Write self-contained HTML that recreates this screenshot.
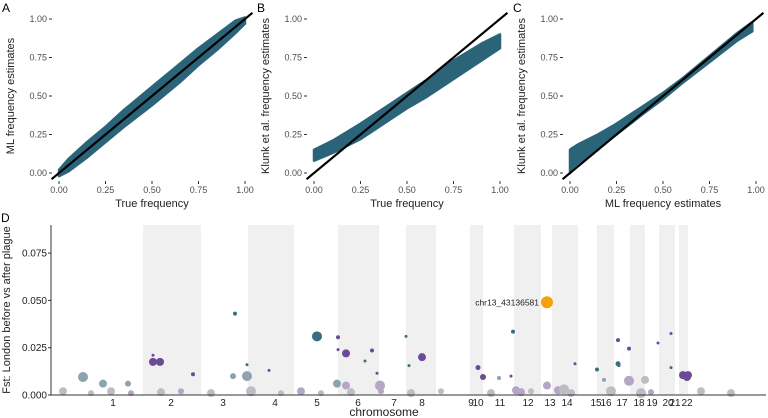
<!DOCTYPE html>
<html><head><meta charset="utf-8">
<style>
body{margin:0;background:#fff;}
svg{display:block;font-family:"Liberation Sans",sans-serif;}
</style></head>
<body>
<svg id="fig" width="768" height="418"></svg>
<script>
// ---- Panel A data: ML estimate cloud (x, lower, upper) ----
const aX = [0.0, 0.05, 0.15, 0.25, 0.35, 0.5, 0.65, 0.75, 0.85, 0.95, 1.0];
const aLo = [-0.02, 0.01, 0.10, 0.20, 0.30, 0.44, 0.59, 0.70, 0.80, 0.91, 0.97];
const aHi = [0.02, 0.09, 0.20, 0.30, 0.41, 0.56, 0.71, 0.81, 0.90, 0.99, 1.01];
// ---- Panel B data: Klunk cloud vs true ----
const bX = [0.0, 0.1, 0.25, 0.4, 0.5, 0.6, 0.75, 0.9, 1.0];
const bLo = [0.08, 0.13, 0.22, 0.34, 0.42, 0.49, 0.61, 0.73, 0.81];
const bHi = [0.15, 0.21, 0.32, 0.44, 0.52, 0.60, 0.73, 0.84, 0.90];
// ---- Panel C data: Klunk vs ML ----
const cX = [0.0, 0.01, 0.05, 0.15, 0.25, 0.4, 0.5, 0.6, 0.75, 0.9, 0.98];
const cLo = [0.0, 0.03, 0.07, 0.16, 0.25, 0.39, 0.48, 0.58, 0.72, 0.86, 0.92];
const cHi = [0.15, 0.16, 0.19, 0.25, 0.32, 0.44, 0.52, 0.61, 0.76, 0.91, 0.98];
const freqTicks = [0, 0.25, 0.5, 0.75, 1.0];
const freqTickLabels = ["0.00", "0.25", "0.50", "0.75", "1.00"];

// ---- Panel D data ----
const chrNames = ["1","2","3","4","5","6","7","8","9","10","11","12","13","14","15","16","17","18","19","20","21","22"];
const chrCenters = [62,120,172,224,266,307,343,371,420,427,449,477,499,516,545,555,571,588,601,617,624,636];
const bandStart = [null,92,null,197,null,287,null,355,null,419,null,463,null,501,null,546,null,579,null,608,null,628];
const bandEnd = [null,150,null,243,null,328,null,385,null,432,null,490,null,527,null,563,null,594,null,624,null,637];
const fstTicks = [0, 0.025, 0.05, 0.075];
const fstTickLabels = ["0.000","0.025","0.050","0.075"];
const ptPos = [32,52,77,102,109,102,142,184,182,196,196,218,266,287,295,287,321,326,329,314,295,286,
  371,358,355,432,427,448,462,465,460,496,507,513,524,546,553,567,568,567,578,578,594,607,620,620,632,636,637,
  12,40,60,80,110,130,160,200,230,250,270,300,330,360,390,440,470,480,520,560,590,600,650,680];
const ptFst = [0.0095,0.006,0.006,0.0175,0.0175,0.021,0.011,0.043,0.010,0.010,0.016,0.013,0.031,0.0305,0.022,0.024,0.0235,0.0115,0.005,0.018,0.005,0.006,
  0.020,0.0155,0.031,0.0095,0.0145,0.009,0.0335,0.0025,0.010,0.005,0.0025,0.003,0.0165,0.0135,0.008,0.0165,0.0155,0.029,0.0245,0.0075,0.008,0.0275,0.0145,0.0325,0.0105,0.0095,0.0105,
  0.002,0.001,0.002,0.001,0.0015,0.002,0.001,0.002,0.001,0.002,0.001,0.0015,0.002,0.001,0.002,0.001,0.0015,0.002,0.001,0.002,0.001,0.0015,0.002,0.001];
const ptSize = [5,4,3,4,4,1.5,2,2,3,5,1.5,1.5,5,2,4,1.5,2,1.5,5,1.5,4,4,
  4,1.5,1.5,3,2.5,2,2,4,1.5,4,4,5,1.5,2,2,2.5,1.5,2,2,5,4,1.5,1.5,1.5,4,4,4,
  4,3,4,3,4,3,4,5,3,4,3,4,3,4,3,4,4,3,4,5,5,3,4,4];
const ptGroup = ["gt","gt","gt","p","p","p","p","t","gt","gt","t","p","t","p","p","p","p","p","lp","t","lp","gt",
  "p","t","t","p","p","gt","t","lp","p","lp","lp","g","p","t","gt","t","t","p","p","lp","g","p","t","p","p","p","p",
  "g","g","g","lp","g","lp","g","g","g","lp","g","g","lp","g","g","g","lp","g","g","g","g","lp","g","g"];
const hitPos = 496;
const hitFst = 0.049;
const hitLabel = "chr13_43136581";

const NS = "http://www.w3.org/2000/svg";
const svg = document.getElementById("fig");
function mk(tag, attrs, parent){const e=document.createElementNS(NS,tag);for(const k in attrs)e.setAttribute(k,attrs[k]);(parent||svg).appendChild(e);return e;}
function txt(s, attrs, parent){const e=mk("text",attrs,parent);e.textContent=s;return e;}

const CLOUD="#2b6479";
function panel(letter, x0, xTitle, yTitle, xs, lo, hi){
  const g = mk("g",{});
  
  
  const sx = v => x0 + v*186;
  const sy = v => 173 - v*154;
  let d = "M"+xs.map((v,i)=>sx(v)+","+sy(lo[i])).join("L");
  for(let i=xs.length-1;i>=0;i--) d += "L"+sx(xs[i])+","+sy(hi[i]);
  const cloud = mk("path",{d:d+"Z",fill:CLOUD,stroke:CLOUD,"stroke-width":2.5,"stroke-linejoin":"round"},g);
  
  
  const ln = mk("line",{x1:sx(-0.04),y1:sy(-0.04),x2:sx(1.04),y2:sy(1.04),stroke:"#000","stroke-width":2.2},g);
  
  
  freqTicks.forEach((t,i)=>{
    mk("line",{x1:sx(t),x2:sx(t),y1:181,y2:184,stroke:"#333"},g);
    const xl = txt(freqTickLabels[i],{x:sx(t),y:193,"font-size":9,fill:"#4d4d4d","text-anchor":"middle"},g);
    
    
    mk("line",{x1:x0-10,x2:x0-7,y1:sy(t),y2:sy(t),stroke:"#333"},g);
    const yl = txt(freqTickLabels[i],{x:x0-12,y:sy(t)+3,"font-size":9,fill:"#4d4d4d","text-anchor":"end"},g);
    
    
  });
  const xt = txt(xTitle,{x:x0+93,y:207,"font-size":11,fill:"#222","text-anchor":"middle"},g);
  
  
  const yt = txt(yTitle,{x:0,y:0,"font-size":11,fill:"#222","text-anchor":"middle",transform:"translate("+(x0-45)+",96) rotate(-90)"},g);
  
  
  const lt = txt(letter,{x:x0-57,y:12,"font-size":12,fill:"#000"},g);
  
  
}
panel("A",59,"True frequency","ML frequency estimates",aX,aLo,aHi);
panel("B",314,"True frequency","Klunk et al. frequency estimates",bX,bLo,bHi);
panel("C",570,"ML frequency estimates","Klunk et al. frequency estimates",cX,cLo,cHi);

// ---- Panel D ----
const gD = mk("g",{});


const dx = v => 51 + v;
const dy = v => 395 - v*1892;
chrNames.forEach((n,i)=>{
  if(bandStart[i]!==null){
    const b = mk("rect",{x:dx(bandStart[i]),y:225,width:bandEnd[i]-bandStart[i],height:170,fill:"#f0f0f0"},gD);
    
    
  }
});
const colors = {t:"#3a6e80",gt:"#8ba4ae",p:"#6b4c94",lp:"#b4a6c6",g:"#bdbdc4"};
ptPos.forEach((p,i)=>{
  const c = mk("circle",{cx:dx(p),cy:dy(ptFst[i]),r:ptSize[i],fill:colors[ptGroup[i]]},gD);
  
  
});
const hit = mk("circle",{cx:dx(hitPos),cy:dy(hitFst),r:6,fill:"#f5a20a"},gD);


const hl = txt(hitLabel,{x:dx(hitPos)-8,y:dy(hitFst)+3,"font-size":8.5,fill:"#222","text-anchor":"end"},gD);


mk("line",{x1:51,y1:225,x2:51,y2:395,stroke:"#333","stroke-width":1},gD);
mk("line",{x1:51,y1:395,x2:766,y2:395,stroke:"#333","stroke-width":1},gD);
fstTicks.forEach((t,i)=>{
  mk("line",{x1:48,x2:51,y1:dy(t),y2:dy(t),stroke:"#333"},gD);
  const l = txt(fstTickLabels[i],{x:47,y:dy(t)+3.5,"font-size":10,fill:"#222","text-anchor":"end"},gD);
  
  
});
chrNames.forEach((n,i)=>{
  const l = txt(n,{x:dx(chrCenters[i]),y:406,"font-size":10,fill:"#222","text-anchor":"middle"},gD);
  
  
});
const xtD = txt("chromosome",{x:384,y:416,"font-size":12,fill:"#222","text-anchor":"middle"},gD);


const ytD = txt("Fst: London before vs after plague",{x:0,y:0,"font-size":11,fill:"#222","text-anchor":"middle",transform:"translate(10,310) rotate(-90)"},gD);


const lD = txt("D",{x:1,y:222,"font-size":12,fill:"#000"},gD);


</script>
</body></html>
